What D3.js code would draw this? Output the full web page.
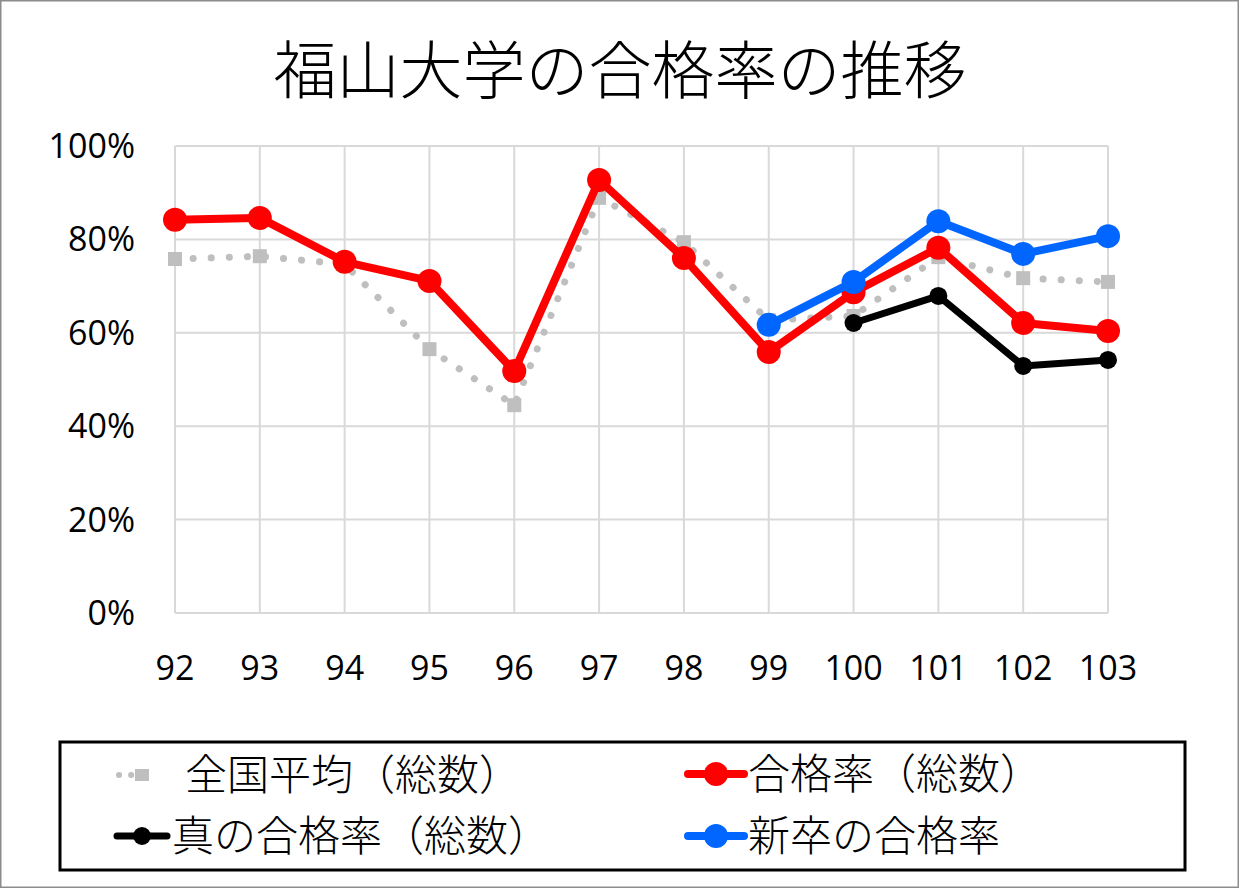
<!DOCTYPE html>
<html>
<head>
<meta charset="utf-8">
<script src="https://cdn.jsdelivr.net/npm/d3@7"></script>
<style>
  body { margin: 0; background: #fff; }
  svg { display: block; }
</style>
</head>
<body>
<div id="chart"></div>
<script>
const width = 1239;
const height = 888;

const years = ["92", "93", "94", "95", "96", "97", "98", "99", "100", "101", "102", "103"];
const zenkoku = [75.8, 76.4, 74.7, 56.5, 44.5, 88.9, 79.4, 62.7, 63.6, 76.2, 71.7, 70.9];
const goukaku = [84.2, 84.6, 75.2, 71.1, 51.8, 92.7, 76.0, 55.9, 68.7, 78.2, 62.1, 60.4];
const shin = [null, null, null, null, null, null, null, null, 62.1, 67.9, 52.9, 54.2];
const shinsotsu = [null, null, null, null, null, null, null, 61.7, 70.9, 83.9, 76.9, 80.7];
const yTicks = [0, 20, 40, 60, 80, 100];

const cjk = "'Noto Sans CJK JP', sans-serif";
const numFont = "'Open Sans', 'Noto Sans', sans-serif";

const svg = d3.select("#chart").append("svg")
    .attr("width", width)
    .attr("height", height);

// outer frame
svg.append("rect")
    .attr("x", 0.5).attr("y", 0.5)
    .attr("width", width - 1).attr("height", height - 1)
    .attr("fill", "#fff")
    .attr("stroke", "#8c8c8c")
    .attr("stroke-width", 2);

svg.append("text")
    .attr("x", 620).attr("y", 93)
    .attr("text-anchor", "middle")
    .attr("font-family", cjk)
    .attr("font-weight", 300)
    .attr("font-size", 63)
    .attr("fill", "#000")
    .text("福山大学の合格率の推移");

const x = d3.scalePoint().domain(years).range([175, 1108]);
const y = d3.scaleLinear().domain([0, 100]).range([613, 146]);

// grid
const grid = svg.append("g");
grid.selectAll("line.h")
    .data(yTicks).enter()
    .append("line")
    .attr("x1", 175).attr("x2", 1108)
    .attr("y1", d => y(d)).attr("y2", d => y(d))
    .attr("stroke", "#d9d9d9").attr("stroke-width", 2);
grid.selectAll("line.v")
    .data(years).enter()
    .append("line")
    .attr("x1", d => x(d)).attr("x2", d => x(d))
    .attr("y1", y(100)).attr("y2", y(0))
    .attr("stroke", "#d9d9d9").attr("stroke-width", 2);

// axes labels
svg.append("g").selectAll("text")
    .data(yTicks).enter()
    .append("text")
    .attr("x", 135)
    .attr("y", d => y(d) + 12)
    .attr("text-anchor", "end")
    .attr("font-family", numFont)
    .attr("font-size", 34)
    .text(d => d + "%");

svg.append("g").selectAll("text")
    .data(years).enter()
    .append("text")
    .attr("x", d => x(d))
    .attr("y", 680)
    .attr("text-anchor", "middle")
    .attr("font-family", numFont)
    .attr("font-size", 34)
    .text(d => d);

const line = d3.line()
    .defined(d => d[1] != null)
    .x(d => x(d[0]))
    .y(d => y(d[1]));

function pts(vals) {
    return years.map((yr, i) => [yr, vals[i]]);
}

// 全国平均 dotted gray
svg.append("path")
    .datum(pts(zenkoku))
    .attr("d", line)
    .attr("fill", "none")
    .attr("stroke", "#bfbfbf")
    .attr("stroke-width", 7)
    .attr("stroke-linecap", "round")
    .attr("stroke-dasharray", "0.1 18");
svg.append("g").selectAll("rect")
    .data(pts(zenkoku)).enter()
    .append("rect")
    .attr("x", d => x(d[0]) - 7)
    .attr("y", d => y(d[1]) - 7)
    .attr("width", 14).attr("height", 14)
    .attr("fill", "#bfbfbf");

function solidSeries(vals, color, sw, r) {
    const data = pts(vals);
    svg.append("path")
        .datum(data)
        .attr("d", line)
        .attr("fill", "none")
        .attr("stroke", color)
        .attr("stroke-width", sw)
        .attr("stroke-linejoin", "round");
    svg.append("g").selectAll("circle")
        .data(data.filter(d => d[1] != null)).enter()
        .append("circle")
        .attr("cx", d => x(d[0]))
        .attr("cy", d => y(d[1]))
        .attr("r", r)
        .attr("fill", color);
}

solidSeries(goukaku, "#ff0000", 8, 12);
solidSeries(shin, "#000000", 7, 9);
solidSeries(shinsotsu, "#0066ff", 8, 12);

// legend
svg.append("rect")
    .attr("x", 60).attr("y", 742)
    .attr("width", 1125).attr("height", 128)
    .attr("fill", "none")
    .attr("stroke", "#000")
    .attr("stroke-width", 3);

const legendItems = [
    {name: "全国平均（総数）", color: "#bfbfbf", kind: "dot", lx: 115, ly: 775, tx: 185},
    {name: "合格率（総数）", color: "#ff0000", kind: "big", lx: 688, ly: 774, tx: 748},
    {name: "真の合格率（総数）", color: "#000000", kind: "small", lx: 117, ly: 836, tx: 172},
    {name: "新卒の合格率", color: "#0066ff", kind: "big", lx: 688, ly: 836, tx: 748}
];

const lg = svg.append("g");
legendItems.forEach(it => {
    const g = lg.append("g");
    if (it.kind === "dot") {
        g.append("line")
            .attr("x1", it.lx + 4).attr("x2", it.lx + 40)
            .attr("y1", it.ly).attr("y2", it.ly)
            .attr("stroke", it.color).attr("stroke-width", 6)
            .attr("stroke-linecap", "round")
            .attr("stroke-dasharray", "0.1 12");
        g.append("rect")
            .attr("x", it.lx + 20).attr("y", it.ly - 6)
            .attr("width", 14).attr("height", 12)
            .attr("fill", it.color);
    } else {
        const w = it.kind === "big" ? 56 : 50;
        g.append("line")
            .attr("x1", it.lx).attr("x2", it.lx + w)
            .attr("y1", it.ly).attr("y2", it.ly)
            .attr("stroke", it.color).attr("stroke-width", it.kind === "big" ? 8 : 7)
            .attr("stroke-linecap", "round");
        g.append("circle")
            .attr("cx", it.lx + w / 2).attr("cy", it.ly)
            .attr("r", it.kind === "big" ? 12 : 9)
            .attr("fill", it.color);
    }
    g.append("text")
        .attr("x", it.tx).attr("y", it.ly + 15)
        .attr("font-family", cjk)
        .attr("font-weight", 300)
        .attr("font-size", 42)
        .text(it.name);
});
</script>
</body>
</html>
